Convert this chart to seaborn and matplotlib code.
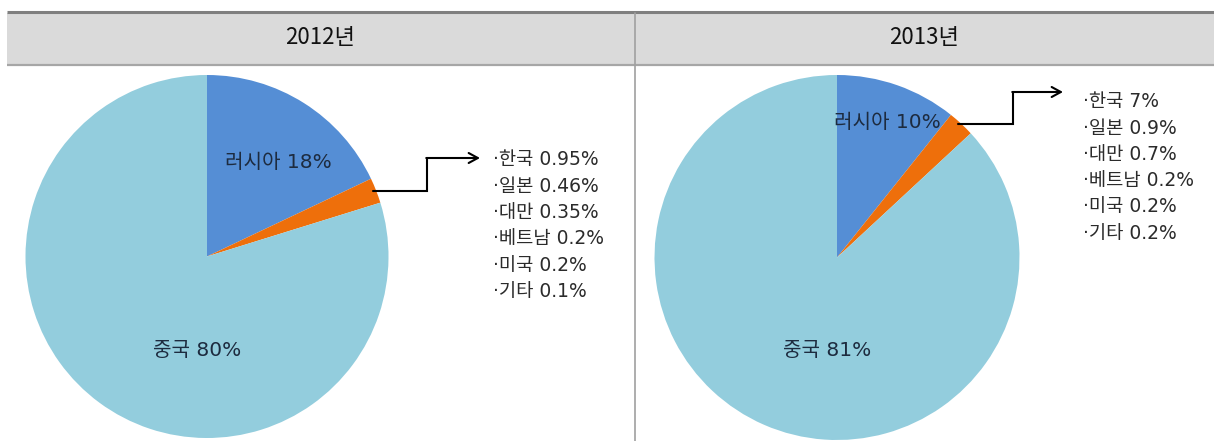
import matplotlib
matplotlib.use("Agg")
import matplotlib.pyplot as plt
from matplotlib.patches import Rectangle
import numpy as np
import seaborn as sns

# ---- data -------------------------------------------------------------
years = ["2012년", "2013년"]
russia_share = [18, 10]
china_share = [80, 81]
other_share = [2.26, 2.2]          # combined slice of the smaller exporters
other_names = ["한국", "일본", "대만", "베트남", "미국", "기타"]
other_2012 = [0.95, 0.46, 0.35, 0.2, 0.2, 0.1]
other_2013 = [7, 0.9, 0.7, 0.2, 0.2, 0.2]
other_values = [other_2012, other_2013]

# ---- style ------------------------------------------------------------
sns.set_theme(style="white")
plt.rcParams["font.family"] = ["DejaVu Sans", "Noto Sans CJK KR"]
palette = sns.color_palette(["#558ED5", "#EE6F0B", "#93CDDD"])

W, H = 1214, 441
fig = plt.figure(figsize=(W / 100, H / 100), dpi=100)

# pie geometry in pixels (centre x, centre y from top, radius)
pies = [(207, 256.5, 181.5), (837, 257.5, 182.5)]
russia_lbl = [(278, 163), (887, 122)]
china_lbl = [(197, 351), (827, 351)]
elbow = [(427, 158, 480), (1013, 92, 1063)]
list_pos = [(493, 160, 26.3), (1083, 102, 26.2)]
title_x = [320, 924]

label_kw = dict(fontsize=14.5, color="#1d2b3f", ha="center", va="center",
                family=["DejaVu Sans", "Noto Sans CJK KR"])
list_kw = dict(fontsize=13.5, color="#2b2b2b", ha="left", va="center",
               family=["DejaVu Sans", "Noto Sans CJK KR"])

# overlay in pixel coordinates for header, divider, labels and connectors
ov = fig.add_axes([0, 0, 1, 1], zorder=5)
ov.set_xlim(0, W)
ov.set_ylim(H, 0)
ov.axis("off")
ov.patch.set_alpha(0)

ov.add_patch(Rectangle((7, 13), W - 7, 51, facecolor="#dadada", edgecolor="none"))
ov.plot([7, W], [11.5, 11.5], color="#7f7f7f", lw=2.2, solid_capstyle="butt")
ov.plot([7, W], [64.5, 64.5], color="#a6a6a6", lw=1.6, solid_capstyle="butt")
ov.plot([634.5, 634.5], [13, H], color="#a0a0a0", lw=1.2)

for i, year in enumerate(years):
    ov.text(title_x[i], 38, year, fontsize=16, ha="center", va="center",
            color="#111111", family=["Liberation Sans Narrow", "Noto Sans CJK KR"])

    cx, cy, r = pies[i]
    ax = fig.add_axes([(cx - r) / W, (H - cy - r) / H, 2 * r / W, 2 * r / H])
    wedges, _ = ax.pie([russia_share[i], other_share[i], china_share[i]],
                       colors=palette, startangle=90, counterclock=False,
                       radius=1, wedgeprops=dict(linewidth=0))
    ax.set_xlim(-1, 1)
    ax.set_ylim(-1, 1)
    ax.axis("off")

    ov.text(*russia_lbl[i], f"러시아 {russia_share[i]}%", **label_kw)
    ov.text(*china_lbl[i], f"중국 {china_share[i]}%", **label_kw)

    # connector from the middle of the small slice to the breakdown list
    w = wedges[1]
    t = np.deg2rad((w.theta1 + w.theta2) / 2)
    sx, sy = cx + r * np.cos(t), cy - r * np.sin(t)
    ex, top, tip = elbow[i]
    ov.plot([sx - 3, ex, ex], [sy, sy, top], color="black", lw=1.5,
            solid_joinstyle="miter")
    ov.annotate("", xy=(tip, top), xytext=(ex - 0.75, top),
                arrowprops=dict(arrowstyle="->,head_length=0.55,head_width=0.3",
                                color="black", lw=1.5, shrinkA=0, shrinkB=0))

    lx, ly, dy = list_pos[i]
    for k, (name, val) in enumerate(zip(other_names, other_values[i])):
        ov.text(lx, ly + k * dy, f"·{name} {val:g}%", **list_kw)

fig.savefig("out.png", dpi=100)
